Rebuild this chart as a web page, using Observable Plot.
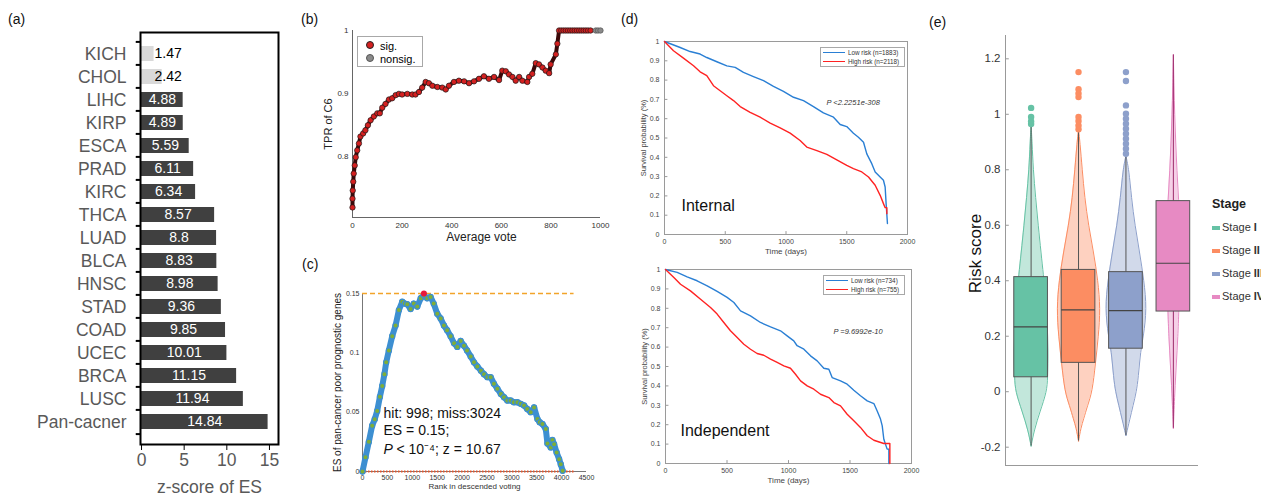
<!DOCTYPE html>
<html><head><meta charset="utf-8">
<script src="https://cdn.jsdelivr.net/npm/d3@7"></script>
<script src="https://cdn.jsdelivr.net/npm/@observablehq/plot@0.6"></script>
<style>
body{margin:0;background:#fff;font-family:"Liberation Sans",Arial,Helvetica,sans-serif;}
#root{position:relative;width:1261px;height:500px;overflow:hidden;background:#fff;}
.plab{position:absolute;font-size:14px;line-height:1;color:#111;}
.lg{position:absolute;background:#fff;border:1px solid #a8a8a8;box-sizing:border-box;}
.row{position:absolute;white-space:nowrap;line-height:1;}
</style></head>
<body><div id="root"></div>
<script>
// ---------- (a) z-score of ES ----------
const cancers = ["KICH","CHOL","LIHC","KIRP","ESCA","PRAD","KIRC","THCA","LUAD","BLCA","HNSC","STAD","COAD","UCEC","BRCA","LUSC","Pan-cacner"];
const zScores = [1.47,2.42,4.88,4.89,5.59,6.11,6.34,8.57,8.8,8.83,8.98,9.36,9.85,10.01,11.15,11.94,14.84];
const isSignificant = [false,false,true,true,true,true,true,true,true,true,true,true,true,true,true,true,true];
const zTicks = [0,5,10,15];

// ---------- (b) TPR of C6 vs average vote ----------
const voteSig = [0,0,1,3,5,9,13,19,26,32,43,52,62,73,86,100,110,120,133,147,160,174,187,200,221,241,254,268,281,295,308,322,342,362,376,389,409,429,450,470,490,510,530,550,571,591,604,618,631,645,658,672,685,705,712,725,739,752,766,779,793,799,820,826,833,842,851,860,869,878,887,896,905,914,923,932,941,950,960];
const tprSig = [0.718,0.732,0.745,0.759,0.772,0.785,0.798,0.809,0.820,0.831,0.836,0.841,0.849,0.857,0.863,0.868,0.868,0.877,0.883,0.890,0.892,0.897,0.899,0.898,0.899,0.898,0.898,0.902,0.909,0.918,0.916,0.912,0.910,0.909,0.906,0.912,0.918,0.920,0.919,0.916,0.919,0.923,0.927,0.923,0.926,0.921,0.936,0.935,0.930,0.926,0.920,0.926,0.920,0.918,0.926,0.931,0.948,0.946,0.941,0.936,0.932,0.946,0.962,0.979,1,1,1,1,1,1,1,1,1,1,1,1,1,1,1];
const voteNon = [981,990,1000];
const tprNon = [1,1,1];
const voteTicks = [0,200,400,600,800,1000];
const tprTicks = [0.8,0.9,1];

// ---------- (c) running ES ----------
const rankES = [0,60,127,194,245,295,350,396,440,476,530,597,664,731,798,850,899,966,1030,1100,1170,1234,1300,1368,1430,1502,1570,1636,1700,1770,1840,1905,1972,2039,2100,2173,2240,2307,2380,2441,2510,2575,2640,2709,2780,2843,2910,2977,3040,3112,3180,3246,3310,3380,3447,3514,3560,3615,3682,3715,3782,3815,3849,3900,3950,3983,4020];
const esValues = [0,0.012,0.025,0.0386,0.044,0.051,0.063,0.072,0.082,0.092,0.102,0.114,0.123,0.136,0.143,0.1415,0.141,0.137,0.1415,0.139,0.146,0.1486,0.146,0.147,0.1415,0.133,0.129,0.123,0.119,0.114,0.108,0.105,0.110,0.106,0.102,0.097,0.092,0.0885,0.085,0.082,0.0795,0.0795,0.074,0.0697,0.0654,0.0626,0.0598,0.0598,0.0584,0.0584,0.057,0.0556,0.0527,0.050,0.054,0.0443,0.0415,0.040,0.0358,0.0237,0.0203,0.0265,0.023,0.016,0.0104,0.0062,0.0006];
const esPeakRank = [1234];
const esPeakValue = [0.15];
const esMax = 0.15;
const rankEnd = 4250;
const rankTicks = [0,500,1000,1500,2000,2500,3000,3500,4000,4500];
const esTicks = [0,0.05,0.1,0.15];

// ---------- (d) Kaplan-Meier ----------
const intLowT = [0,129,211,293,348,431,513,582,650,732,815,897,979,1062,1144,1226,1308,1391,1446,1500,1555,1596,1638,1665,1706,1734,1775,1802,1816,1824,1835];
const intLowS = [1,0.969,0.948,0.935,0.917,0.895,0.874,0.866,0.840,0.818,0.797,0.768,0.742,0.711,0.694,0.663,0.630,0.608,0.570,0.559,0.525,0.504,0.478,0.418,0.367,0.324,0.298,0.281,0.246,0.160,0.057];
const intHighT = [0,74,156,239,293,348,403,458,513,568,623,705,787,870,952,1034,1116,1171,1254,1336,1418,1500,1555,1624,1679,1734,1775,1802,1816,1830,1830];
const intHighS = [1,0.952,0.914,0.874,0.843,0.823,0.771,0.745,0.719,0.694,0.663,0.633,0.608,0.577,0.552,0.525,0.487,0.453,0.435,0.415,0.387,0.358,0.341,0.324,0.298,0.255,0.203,0.160,0.139,0.139,0.108];
const indLowT = [0,95,176,257,339,420,501,556,610,691,772,854,935,989,1043,1070,1125,1179,1233,1287,1328,1355,1423,1477,1531,1585,1640,1694,1721,1748,1762,1775,1802,1816,1816];
const indLowS = [1,0.985,0.962,0.942,0.916,0.887,0.856,0.830,0.787,0.761,0.727,0.704,0.684,0.658,0.632,0.607,0.589,0.555,0.529,0.491,0.486,0.443,0.426,0.409,0.378,0.349,0.323,0.309,0.271,0.229,0.194,0.125,0.074,0.074,0];
const indHighT = [0,68,122,203,285,366,420,474,528,583,637,691,745,799,854,908,962,1016,1057,1098,1152,1206,1260,1328,1369,1423,1477,1531,1585,1640,1694,1775,1824,1824];
const indHighS = [1,0.959,0.924,0.890,0.847,0.804,0.770,0.727,0.684,0.649,0.615,0.589,0.567,0.558,0.538,0.521,0.503,0.491,0.460,0.426,0.400,0.383,0.357,0.340,0.314,0.297,0.254,0.220,0.186,0.143,0.120,0.103,0.103,0];
const timeTicks = [0,500,1000,1500,2000];
const survTicks = [0,0.1,0.2,0.3,0.4,0.5,0.6,0.7,0.8,0.9,1];

// ---------- (e) risk score by stage ----------
const stages = ["Stage I","Stage II","Stage III","Stage IV"];
const stageColors = ["#66c2a5","#fc8d62","#8da0cb","#e78ac3"];
const boxMin = [-0.196,-0.178,-0.158,-0.132];
const boxQ1 = [0.052,0.104,0.155,0.289];
const boxMedian = [0.234,0.295,0.292,0.463];
const boxQ3 = [0.413,0.439,0.431,0.687];
const boxMax = [0.953,0.942,0.845,1.214];
const outliersI = [0.965,0.975,0.99,1.023];
const outliersII = [0.946,0.96,0.976,0.99,1.062,1.075,1.09,1.152];
const outliersIII = [0.858,0.876,0.894,0.912,0.93,0.948,0.966,0.984,1.002,1.032,1.12,1.152];
const violinY_I = [-0.196,-0.14,-0.07,0,0.05,0.15,0.25,0.35,0.42,0.5,0.6,0.7,0.8,0.9,0.96];
const violinW_I = [0,0.063,0.19,0.33,0.35,0.36,0.34,0.30,0.26,0.21,0.15,0.095,0.045,0.02,0];
const violinY_II = [-0.178,-0.13,-0.1,-0.05,0,0.1,0.2,0.3,0.4,0.5,0.6,0.7,0.8,0.9,0.945];
const violinW_II = [0,0.05,0.105,0.19,0.29,0.355,0.42,0.46,0.41,0.32,0.21,0.13,0.078,0.03,0];
const violinY_III = [-0.158,-0.1,-0.05,0,0.05,0.15,0.2,0.3,0.4,0.5,0.6,0.7,0.8,0.85];
const violinW_III = [0,0.08,0.15,0.22,0.26,0.31,0.37,0.44,0.38,0.29,0.19,0.115,0.063,0];
const violinY_IV = [-0.132,0,0.1,0.2,0.29,0.45,0.6,0.69,0.8,0.9,1.0,1.1,1.214];
const violinW_IV = [0,0.03,0.063,0.095,0.116,0.137,0.137,0.112,0.074,0.049,0.027,0.013,0];
const riskTicks = [-0.2,0,0.2,0.4,0.6,0.8,1,1.2];

// ================= drawing =================
const FONT = "Liberation Sans, Arial, Helvetica, sans-serif";
const root = document.getElementById("root");
function place(node, left, top) {
  node.style.position = "absolute";
  node.style.left = left + "px";
  node.style.top = top + "px";
  root.appendChild(node);
}
function html(str) { const d = document.createElement("div"); d.innerHTML = str; return d.firstElementChild; }
const baseStyle = {fontFamily: FONT, background: "transparent", overflow: "visible"};
const plain = d => String(d);

// panel labels
[["(a)",8,12],["(b)",301,12],["(c)",302,257],["(d)",621,12],["(e)",929,15]].forEach(([t,l,tp]) => {
  const d = document.createElement("div"); d.className = "plab"; d.textContent = t; place(d, l, tp);
});

// ---- (a)
const aData = cancers.map((c, i) => ({cancer: c, z: zScores[i], sig: isSignificant[i]}));
const plotA = Plot.plot({
  width: 290, height: 500, marginLeft: 140, marginRight: 12, marginTop: 32, marginBottom: 56,
  style: baseStyle,
  x: {domain: [-0.12, 16.06]},
  y: {domain: cancers, padding: 0.34},
  marks: [
    Plot.barX(aData, {x1: 0, x2: "z", y: "cancer", fill: d => d.sig ? "#404040" : "#d9d9d9"}),
    Plot.text(aData.filter(d => d.sig), {x: d => d.z / 2, y: "cancer", text: d => String(d.z), fill: "white", fontSize: 14}),
    Plot.text(aData.filter(d => !d.sig), {x: 0, dx: 13, y: "cancer", text: d => String(d.z), fill: "black", fontSize: 14, textAnchor: "start"}),
    Plot.ruleY(cancers, {y: d => d, dy: -12.1, x1: -0.62, x2: -0.12, stroke: "black", strokeWidth: 2}),
    Plot.ruleY(cancers.slice(-1), {y: d => d, dy: 12.1, x1: -0.62, x2: -0.12, stroke: "black", strokeWidth: 2}),
    Plot.frame({stroke: "black", strokeWidth: 2}),
    Plot.axisY({tickSize: 0, tickPadding: 14, fontSize: 17.5, fill: "#595959", label: null}),
    Plot.axisX({ticks: zTicks, tickSize: 6, tickPadding: 3, fontSize: 17.5, fill: "#595959", stroke: "black", label: null}),
    Plot.text(["z-score of ES"], {frameAnchor: "bottom", dy: 48, fontSize: 17.5, fill: "#595959", text: d => d})
  ]
});
place(plotA, 0, 0);

// ---- (b)
const bSig = voteSig.map((v, i) => ({vote: v, tpr: tprSig[i]}));
const bNon = voteNon.map((v, i) => ({vote: v, tpr: tprNon[i]}));
const plotB = Plot.plot({
  width: 330, height: 250, marginLeft: 62, marginRight: 20, marginTop: 30, marginBottom: 33,
  style: baseStyle,
  x: {domain: [0, 1000]},
  y: {domain: [0.702, 1.0]},
  marks: [
    Plot.ruleX([0], {stroke: "#666"}),
    Plot.ruleY([0.702], {stroke: "#666"}),
    Plot.line(bSig, {x: "vote", y: "tpr", stroke: "#3a0808", strokeWidth: 4}),
    Plot.dot(bSig, {x: "vote", y: "tpr", r: 2.7, fill: "#d42020", stroke: "#1a1a1a", strokeWidth: 0.7}),
    Plot.dot(bNon, {x: "vote", y: "tpr", r: 2.7, fill: "#8a8a8a", stroke: "#555", strokeWidth: 0.7}),
    Plot.axisX({ticks: voteTicks, tickFormat: plain, tickSize: 0, tickPadding: 5, fontSize: 8, fill: "#333", label: null}),
    Plot.axisY({ticks: tprTicks, tickFormat: plain, tickSize: 0, tickPadding: 4, fontSize: 8, fill: "#333", label: null}),
    Plot.text(["Average vote"], {frameAnchor: "bottom", dy: 23, dx: 5, fontSize: 12, fill: "#222", text: d => d}),
    Plot.text(["TPR of C6"], {frameAnchor: "left", dx: -24, rotate: -90, textAnchor: "middle", fontSize: 11, fill: "#222", text: d => d})
  ]
});
place(plotB, 290, 0);
place(html(`<div class="lg" style="width:66px;height:31px;">
  <div class="row" style="left:8px;top:4px;font-size:11px;"><span style="display:inline-block;width:6px;height:6px;border-radius:50%;background:#d42020;border:1px solid #222;margin-right:6px;vertical-align:1px"></span>sig.</div>
  <div class="row" style="left:8px;top:17px;font-size:11px;"><span style="display:inline-block;width:6px;height:6px;border-radius:50%;background:#8a8a8a;border:1px solid #555;margin-right:6px;vertical-align:1px"></span>nonsig.</div>
</div>`), 357, 36);

// ---- (c)
const cData = rankES.map((r, i) => ({rank: r, es: esValues[i]}));
const cPeak = esPeakRank.map((r, i) => ({rank: r, es: esPeakValue[i]}));
const plotC = Plot.plot({
  width: 330, height: 250, marginLeft: 72, marginRight: 34, marginTop: 43, marginBottom: 29,
  style: baseStyle,
  x: {domain: [0, 4500]},
  y: {domain: [0, 0.15]},
  marks: [
    Plot.ruleX([0], {stroke: "#777"}),
    Plot.ruleY([0], {stroke: "#777"}),
    Plot.ruleY([esMax], {x1: 0, x2: rankEnd, stroke: "#f2a42a", strokeWidth: 1.3, strokeDasharray: "5,3"}),
    Plot.ruleY([0], {x1: 0, x2: rankEnd, stroke: "#e8542a", strokeWidth: 2.2, strokeDasharray: "1.5,1.5"}),
    Plot.line(cData, {x: "rank", y: "es", stroke: "#3d8fd1", strokeWidth: 6, strokeLinejoin: "round", strokeLinecap: "round"}),
    Plot.dot(cData, {x: "rank", y: "es", r: 2.6, fill: "#7fae36", stroke: "#3d8fd1", strokeWidth: 1.2}),
    Plot.dot(cPeak, {x: "rank", y: "es", r: 3, fill: "#e8173c"}),
    Plot.axisX({ticks: rankTicks, tickFormat: plain, tickSize: 0, tickPadding: 4, fontSize: 7, fill: "#333", label: null}),
    Plot.axisY({ticks: esTicks, tickFormat: plain, tickSize: 0, tickPadding: 3, fontSize: 7, fill: "#333", label: null}),
    Plot.text(["Rank in descended voting"], {frameAnchor: "bottom", dy: 17, fontSize: 8, fill: "#333", text: d => d}),
    Plot.text(["ES of pan-cancer poor prognostic genes"], {frameAnchor: "left", dx: -25, rotate: -90, textAnchor: "middle", fontSize: 10, fill: "#222", text: d => d}),
    Plot.text(["hit: 998; miss:3024"], {frameAnchor: "bottom-left", dx: 21, dy: -54, textAnchor: "start", fontSize: 14, fill: "#111", text: d => d}),
    Plot.text(["ES = 0.15;"], {frameAnchor: "bottom-left", dx: 21, dy: -37, textAnchor: "start", fontSize: 14, fill: "#111", text: d => d}),
    Plot.text(["P"], {frameAnchor: "bottom-left", dx: 21, dy: -18, textAnchor: "start", fontSize: 14, fontStyle: "italic", fill: "#111", text: d => d}),
    Plot.text([" < 10⁻⁴; z = 10.67"], {frameAnchor: "bottom-left", dx: 30, dy: -18, textAnchor: "start", fontSize: 14, fill: "#111", text: d => d})
  ]
});
place(plotC, 290, 250);

// ---- (d)
function kmPlot(lowT, lowS, highT, highS, opts) {
  const low = lowT.map((t, i) => ({t, s: lowS[i]}));
  const high = highT.map((t, i) => ({t, s: highS[i]}));
  return Plot.plot({
    width: 320, height: opts.height, marginLeft: opts.ml, marginRight: opts.mr, marginTop: opts.mt, marginBottom: opts.mb,
    style: baseStyle,
    x: {domain: [0, 2000]},
    y: {domain: [0, 1]},
    marks: [
      Plot.frame({stroke: "#9a9a9a"}),
      Plot.ruleX(timeTicks, {y1: 0, y2: 0.015, stroke: "#9a9a9a"}),
      Plot.ruleY(survTicks, {x1: 0, x2: 28, stroke: "#9a9a9a"}),
      Plot.line(low, {x: "t", y: "s", stroke: "#2a7fd4", strokeWidth: 1.4}),
      Plot.line(high, {x: "t", y: "s", stroke: "#ff2222", strokeWidth: 1.4}),
      Plot.axisX({ticks: timeTicks, tickFormat: plain, tickSize: 0, tickPadding: 5, fontSize: 7, fill: "#444", label: null}),
      Plot.axisY({ticks: survTicks, tickFormat: plain, tickSize: 0, tickPadding: 5, fontSize: 7, fill: "#444", label: null}),
      Plot.text(["Time (days)"], {frameAnchor: "bottom", dy: 19, fontSize: 8, fill: "#444", text: d => d}),
      Plot.text(["Survival probability (%)"], {frameAnchor: "left", dx: -21, rotate: -90, textAnchor: "middle", fontSize: 7.5, fill: "#444", text: d => d}),
      Plot.text([opts.pText], {frameAnchor: "top-left", dx: opts.pdx, dy: opts.pdy, textAnchor: "start", fontSize: 7.5, fontStyle: "italic", fill: "#333", text: d => d}),
      Plot.text([opts.name], {frameAnchor: "bottom-left", dx: opts.ndx, dy: opts.ndy, textAnchor: "start", fontSize: 16, fill: "#111", text: d => d})
    ]
  });
}
const plotD1 = kmPlot(intLowT, intLowS, intHighT, intHighS,
  {height: 262, ml: 44, mr: 33, mt: 41, mb: 28, pText: "P <2.2251e-308", pdx: 162, pdy: 58, name: "Internal", ndx: 17, ndy: -24});
place(plotD1, 620, 0);
const plotD2 = kmPlot(indLowT, indLowS, indHighT, indHighS,
  {height: 238, ml: 45, mr: 29, mt: 7, mb: 37, pText: "P =9.6992e-10", pdx: 168, pdy: 59, name: "Independent", ndx: 15, ndy: -28});
place(plotD2, 620, 262);
function kmLegend(lowLabel, highLabel, w) {
  return html(`<div class="lg" style="width:${w}px;height:20px;">
    <div class="row" style="left:2px;top:2px;font-size:6.3px;color:#333"><span style="display:inline-block;width:22px;height:1.5px;background:#2a7fd4;margin-right:3px;vertical-align:2px"></span>${lowLabel}</div>
    <div class="row" style="left:2px;top:11px;font-size:6.3px;color:#333"><span style="display:inline-block;width:22px;height:1.5px;background:#ff2222;margin-right:3px;vertical-align:2px"></span>${highLabel}</div>
  </div>`);
}
place(kmLegend("Low risk (n=1883)", "High risk (n=2118)", 85), 820, 47);
place(kmLegend("Low risk (n=734)", "High risk (n=755)", 82), 823, 275);

// ---- (e)
const xDomE = [0.46, 4.53];
const yDomE = [-0.266, 1.284];
const violinYs = [violinY_I, violinY_II, violinY_III, violinY_IV];
const violinWs = [violinW_I, violinW_II, violinW_III, violinW_IV];
const violinData = stages.flatMap((s, i) => violinYs[i].map((y, j) => ({stage: s, pos: i + 1, y, w: violinWs[i][j]})));
const boxData = stages.map((s, i) => ({stage: s, pos: i + 1, min: boxMin[i], q1: boxQ1[i], med: boxMedian[i], q3: boxQ3[i], max: boxMax[i]}));
const outlierData = [outliersI, outliersII, outliersIII].flatMap((arr, i) => arr.map(v => ({stage: stages[i], pos: i + 1, v})));
const boxHalf = 0.355;
const plotE = Plot.plot({
  width: 270, height: 500, marginLeft: 65, marginRight: 12, marginTop: 35, marginBottom: 35,
  style: baseStyle,
  x: {domain: xDomE, axis: null},
  y: {domain: yDomE},
  color: {domain: stages, range: stageColors},
  marks: [
    Plot.ruleX([xDomE[0]], {stroke: "#999"}),
    Plot.ruleY([yDomE[0]], {stroke: "#999"}),
    Plot.ruleY(riskTicks, {x1: xDomE[0], x2: xDomE[0] + 0.08, stroke: "#999"}),
    Plot.areaX(violinData, {y: "y", x1: d => d.pos - d.w, x2: d => d.pos + d.w, z: "stage", fill: "stage", fillOpacity: 0.4, curve: "basis"}),
    Plot.lineX(violinData, {y: "y", x: d => d.pos - d.w, z: "stage", stroke: "stage", strokeWidth: 1, curve: "basis"}),
    Plot.lineX(violinData, {y: "y", x: d => d.pos + d.w, z: "stage", stroke: "stage", strokeWidth: 1, curve: "basis"}),
    Plot.ruleX(boxData, {x: "pos", y1: "min", y2: "max", stroke: d => d.pos === 4 ? "#9c2a6a" : "#555", strokeWidth: 1}),
    Plot.rect(boxData, {x1: d => d.pos - boxHalf, x2: d => d.pos + boxHalf, y1: "q1", y2: "q3", fill: "stage", stroke: "#555", strokeWidth: 1}),
    Plot.ruleY(boxData, {x1: d => d.pos - boxHalf, x2: d => d.pos + boxHalf, y: "med", stroke: "#444", strokeWidth: 1.2}),
    Plot.dot(outlierData, {x: "pos", y: "v", r: 3.2, fill: "stage"}),
    Plot.axisY({ticks: riskTicks, tickFormat: plain, tickSize: 0, tickPadding: 5, fontSize: 11.5, fill: "#333", label: null}),
    Plot.text(["Risk score"], {frameAnchor: "left", dx: -30, dy: 3, rotate: -90, textAnchor: "middle", fontSize: 17, fill: "#111", text: d => d})
  ]
});
place(plotE, 940, 0);
const legE = document.createElement("div");
legE.style.cssText = "position:absolute;left:1212px;top:198px;";
legE.innerHTML = `<div style="font-weight:bold;font-size:12.5px;color:#222;line-height:1">Stage</div>` +
  stages.map((s, i) => `<div style="position:absolute;left:0;top:${24 + i * 23}px;white-space:nowrap;font-size:11px;color:#333;line-height:1"><span style="position:absolute;left:0;top:4px;width:8px;height:4px;background:${stageColors[i]}"></span><span style="margin-left:10px">Stage <b>${s.split(" ")[1]}</b></span></div>`).join("");
root.appendChild(legE);
</script>
</body></html>
